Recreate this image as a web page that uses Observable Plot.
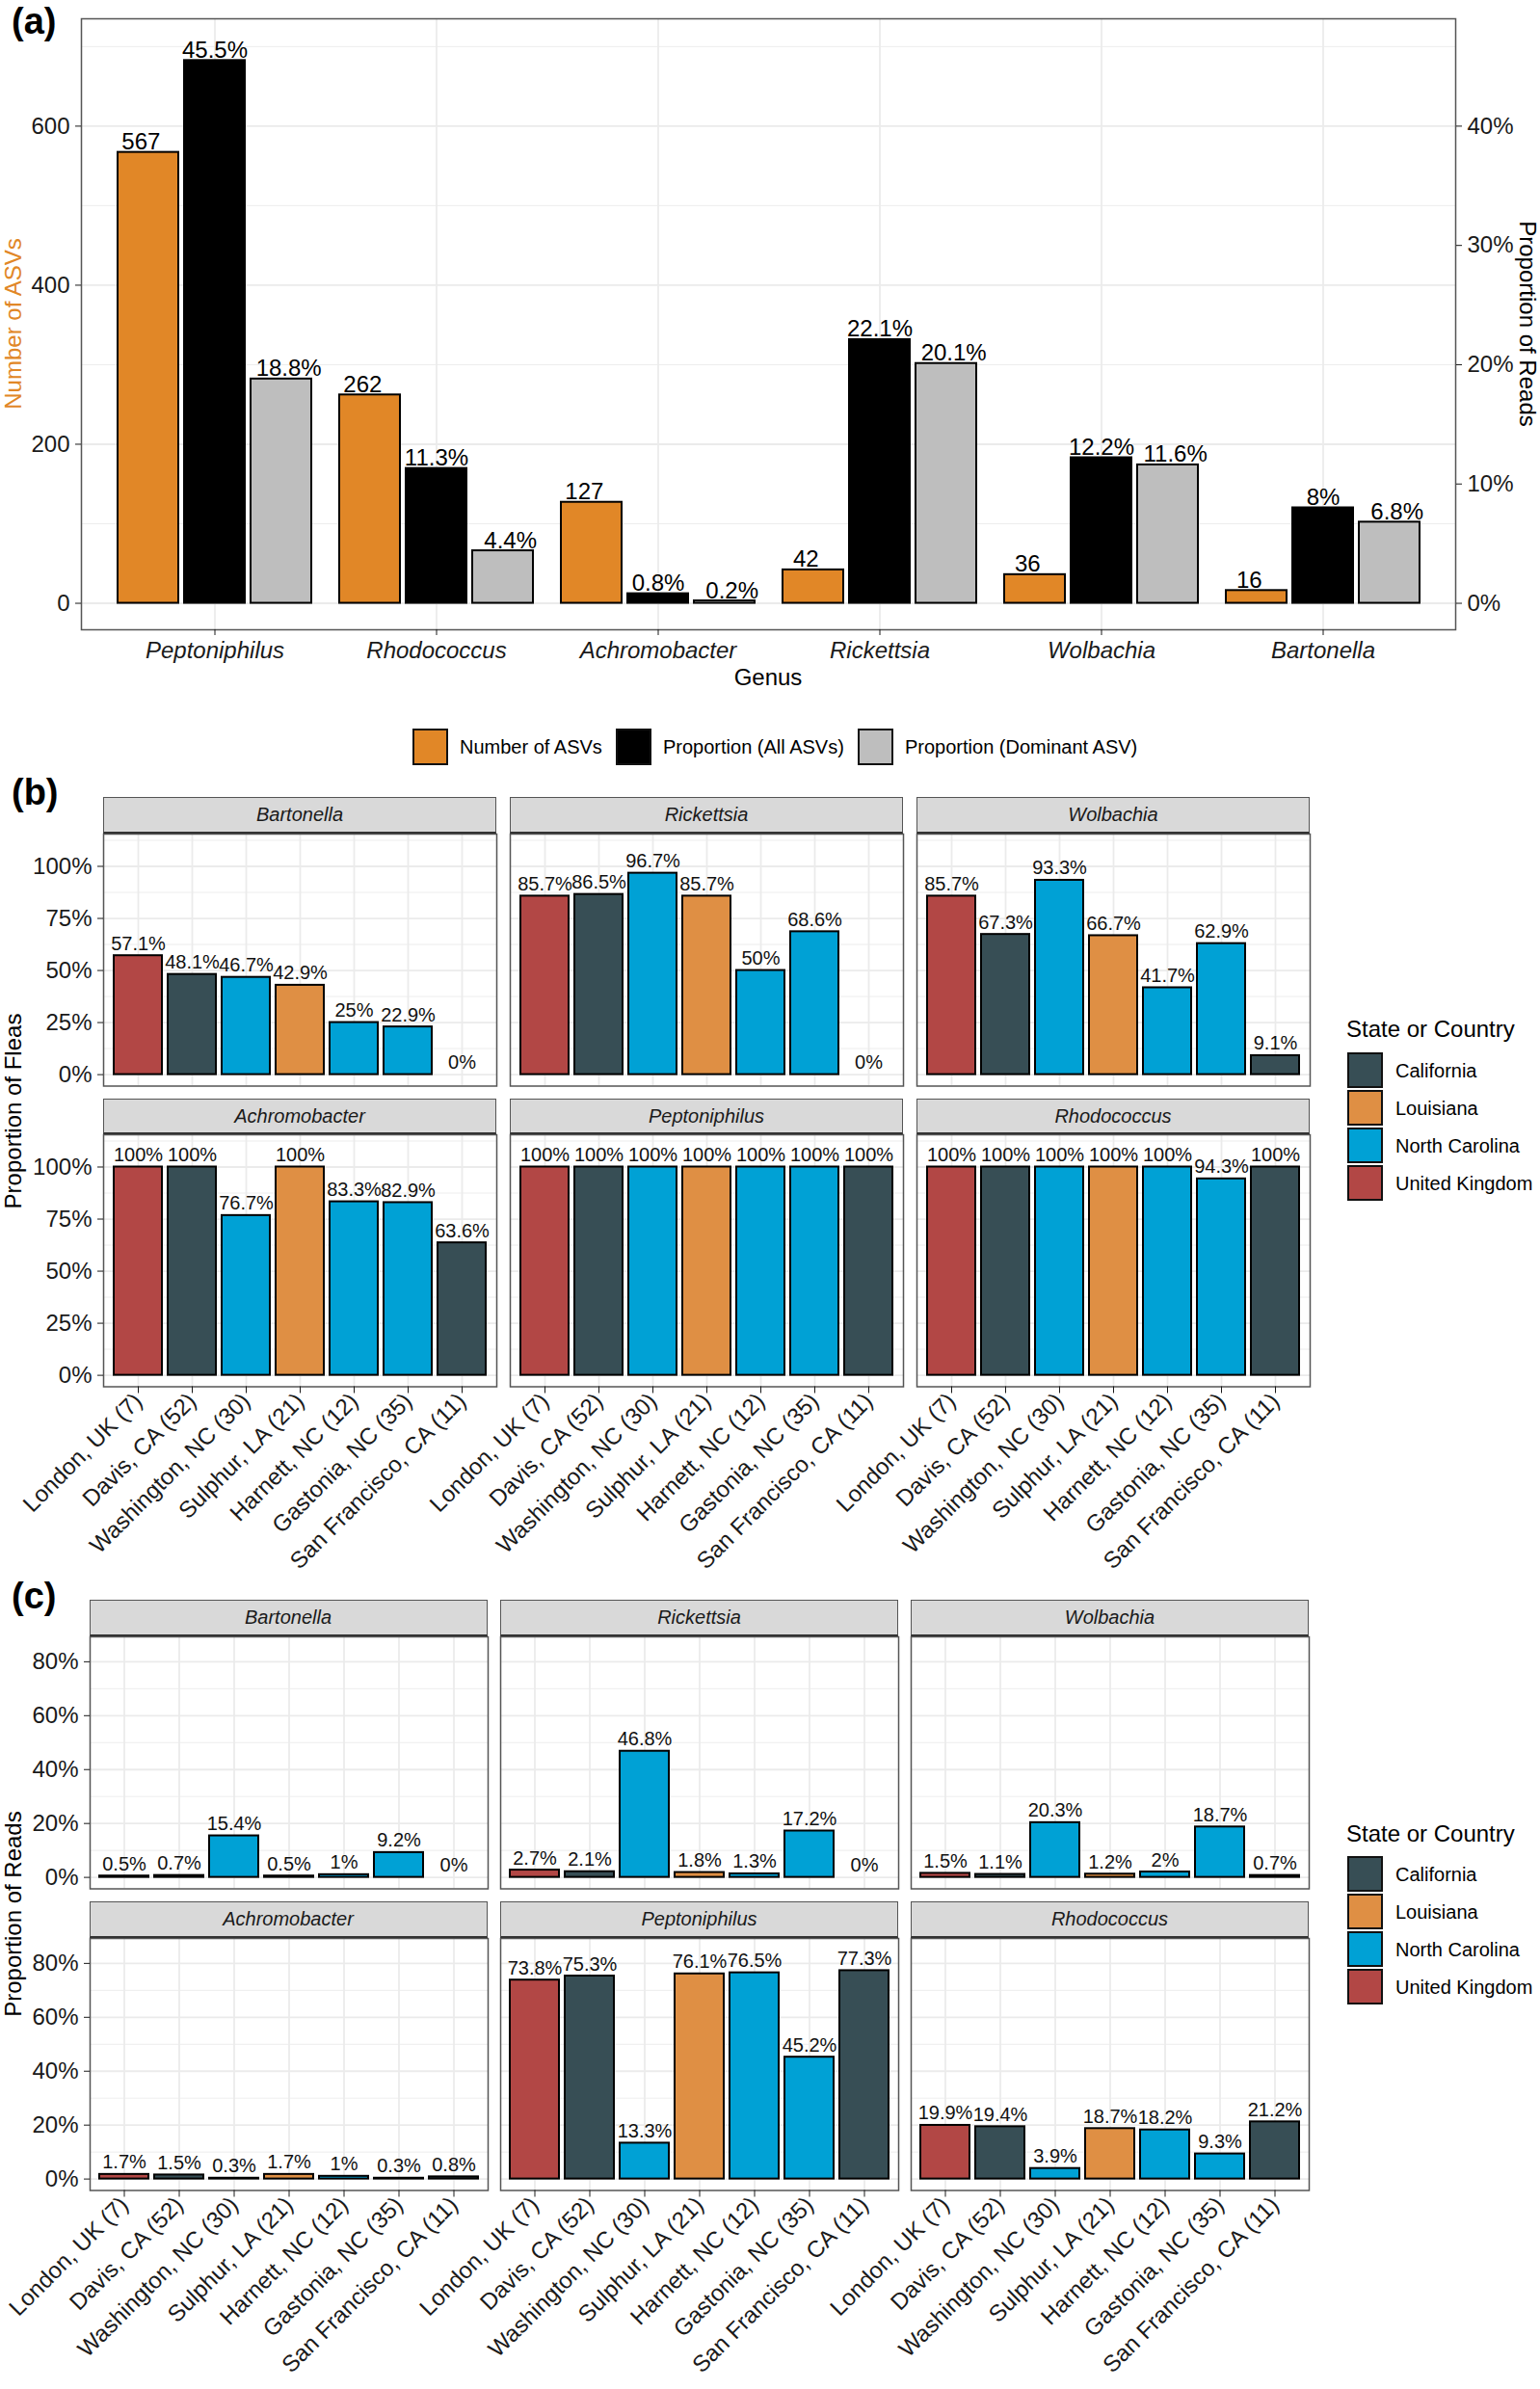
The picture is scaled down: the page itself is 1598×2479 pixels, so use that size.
<!DOCTYPE html>
<html>
<head>
<meta charset="utf-8">
<script src="https://cdn.jsdelivr.net/npm/d3@7"></script>
<script src="https://cdn.jsdelivr.net/npm/@observablehq/plot@0.6"></script>
<style>
  body { margin: 0; background: #fff; }
  #root { position: relative; width: 1598px; height: 2479px; overflow: hidden; background: #fff;
          font-family: "Liberation Sans", Arial, Helvetica, sans-serif; color: #000; }
  .t { position: absolute; white-space: nowrap; line-height: 1; }
  .strip { position: absolute; box-sizing: border-box; background: #D9D9D9; border: 1.5px solid #555;
           border-bottom: 2px solid #333; display: flex; align-items: center; justify-content: center;
           font-style: italic; font-size: 20px; color: #1A1A1A; }
  .sw { position: absolute; box-sizing: border-box; border: 2px solid #111; }
</style>
</head>
<body>
<div id="root"></div>
<script>
// ---------------- DATA ----------------
const genera = ["Peptoniphilus", "Rhodococcus", "Achromobacter", "Rickettsia", "Wolbachia", "Bartonella"];
const seriesNames = ["Number of ASVs", "Proportion (All ASVs)", "Proportion (Dominant ASV)"];
const seriesColors = ["#E18727", "#000000", "#BEBEBE"];
const asvCounts = [567, 262, 127, 42, 36, 16];
const propAll = [45.5, 11.3, 0.8, 22.1, 12.2, 8];          // % of reads, all ASVs
const propDominant = [18.8, 4.4, 0.2, 20.1, 11.6, 6.8];    // % of reads, dominant ASV
const asvTicks = [0, 200, 400, 600];
const asvMinor = [100, 300, 500, 700];
const readPctTicks = [0, 10, 20, 30, 40];
const SEC = 15; // secondary axis: 40% <-> 600 ASVs

const locations = ["London, UK (7)", "Davis, CA (52)", "Washington, NC (30)", "Sulphur, LA (21)",
                   "Harnett, NC (12)", "Gastonia, NC (35)", "San Francisco, CA (11)"];
const locationRegion = ["United Kingdom", "California", "North Carolina", "Louisiana",
                        "North Carolina", "North Carolina", "California"];
const regions = ["California", "Louisiana", "North Carolina", "United Kingdom"];
const regionColors = ["#374E55", "#DF8F44", "#00A1D5", "#B24745"];
const facetOrder = ["Bartonella", "Rickettsia", "Wolbachia", "Achromobacter", "Peptoniphilus", "Rhodococcus"];

// (b) Proportion of fleas (%)
const fleasBartonella     = [57.1, 48.1, 46.7, 42.9, 25, 22.9, 0];
const fleasRickettsia     = [85.7, 86.5, 96.7, 85.7, 50, 68.6, 0];
const fleasWolbachia      = [85.7, 67.3, 93.3, 66.7, 41.7, 62.9, 9.1];
const fleasAchromobacter  = [100, 100, 76.7, 100, 83.3, 82.9, 63.6];
const fleasPeptoniphilus  = [100, 100, 100, 100, 100, 100, 100];
const fleasRhodococcus    = [100, 100, 100, 100, 100, 94.3, 100];
const fleasTicks = [0, 25, 50, 75, 100];
const fleasMinor = [12.5, 37.5, 62.5, 87.5, 112.5];

// (c) Proportion of reads (%)
const readsBartonella     = [0.5, 0.7, 15.4, 0.5, 1, 9.2, 0];
const readsRickettsia     = [2.7, 2.1, 46.8, 1.8, 1.3, 17.2, 0];
const readsWolbachia      = [1.5, 1.1, 20.3, 1.2, 2, 18.7, 0.7];
const readsAchromobacter  = [1.7, 1.5, 0.3, 1.7, 1, 0.3, 0.8];
const readsPeptoniphilus  = [73.8, 75.3, 13.3, 76.1, 76.5, 45.2, 77.3];
const readsRhodococcus    = [19.9, 19.4, 3.9, 18.7, 18.2, 9.3, 21.2];
const readsTicks = [0, 20, 40, 60, 80];
const readsMinor = [10, 30, 50, 70];

// ---------------- HELPERS ----------------
const W = 1598;
const FONT = '"Liberation Sans", Arial, Helvetica, sans-serif';
const GRID = "#EBEBEB";
const FRAME = "#555555";
const root = document.getElementById("root");

function put(el, left, top) {
  el.style.position = "absolute";
  el.style.left = left + "px";
  el.style.top = top + "px";
  root.appendChild(el);
  return el;
}
function text(str, {cx, cy, left, size = 24, weight = "normal", italic = false, color = "#000", rotate = 0}) {
  const d = document.createElement("div");
  d.className = "t";
  d.textContent = str;
  d.style.fontSize = size + "px";
  d.style.fontWeight = weight;
  d.style.fontStyle = italic ? "italic" : "normal";
  d.style.color = color;
  if (left !== undefined) {
    d.style.transform = "translateY(-50%)";
    put(d, left, cy);
  } else {
    d.style.transform = `translate(-50%,-50%) rotate(${rotate}deg)`;
    put(d, cx, cy);
  }
  return d;
}
function swatch(color, left, top, w = 37, h = 37) {
  const s = document.createElement("div");
  s.className = "sw";
  s.style.width = w + "px";
  s.style.height = h + "px";
  s.style.background = color;
  return put(s, left, top);
}
const svgStyle = {fontFamily: FONT, fontSize: "24px", background: "transparent", color: "#1A1A1A", overflow: "visible"};

// ---------------- PANEL (a) ----------------
const aLeft = 84, aRight = 1510, aTop = 19, aBottom = 653, aH = 720;
const aStep = (aRight - aLeft) / (genera.length + 0.2);
const slot = aStep * 0.9 / 3;
const seriesValues = [asvCounts, propAll.map(v => v * SEC), propDominant.map(v => v * SEC)];
const seriesLabels = [asvCounts.map(String), propAll.map(v => v + "%"), propDominant.map(v => v + "%")];
const aSeries = seriesNames.map((s, k) => genera.map((g, i) => ({genus: g, series: s, y: seriesValues[k][i], label: seriesLabels[k][i]})));

const aPlot = Plot.plot({
  width: W, height: aH,
  marginLeft: aLeft, marginRight: W - aRight, marginTop: aTop, marginBottom: aH - aBottom,
  style: svgStyle,
  x: {type: "band", domain: genera, paddingInner: 0.1, paddingOuter: 0.15, axis: null},
  y: {domain: [-33.3, 735], axis: null},
  color: {domain: seriesNames, range: seriesColors},
  marks: [
    Plot.ruleY(asvMinor, {stroke: GRID, strokeWidth: 0.9}),
    Plot.ruleY(asvTicks, {stroke: GRID, strokeWidth: 1.8}),
    Plot.ruleX(genera, {stroke: GRID, strokeWidth: 1.8}),
    ...aSeries.map((rows, k) => Plot.barY(rows, {
      x: "genus", y: "y", fill: "series", stroke: "#000", strokeWidth: 2,
      insetLeft: k * slot + 3, insetRight: (2 - k) * slot + 3
    })),
    ...aSeries.map((rows, k) => Plot.text(rows, {
      x: "genus", y: "y", text: "label", dx: (k - 1) * aStep / 3, dy: -3,
      lineAnchor: "bottom", fontSize: 24, fill: "#000"
    })),
    Plot.frame({stroke: FRAME, strokeWidth: 1.5}),
    Plot.axisY({ticks: asvTicks, tickSize: 6, tickPadding: 6, fontSize: 24, label: null}),
    Plot.axisY({anchor: "right", ticks: readPctTicks.map(p => p * SEC), tickFormat: d => (d / SEC) + "%",
                tickSize: 6, tickPadding: 6, fontSize: 24, label: null}),
    Plot.axisX({tickSize: 6, tickPadding: 6, fontSize: 24, fontStyle: "italic", label: null})
  ]
});
put(aPlot, 0, 0);

text("(a)", {left: 12, cy: 22, size: 38, weight: "bold"});
text("Number of ASVs", {cx: 14, cy: 336, rotate: -90, color: "#E18727"});
text("Proportion of Reads", {cx: 1585, cy: 336, rotate: 90});
text("Genus", {cx: 797, cy: 703});

// legend (a)
const aLegX = [428, 639, 890];
seriesNames.forEach((s, i) => {
  swatch(seriesColors[i], aLegX[i], 756, 37, 38);
  text(s, {left: aLegX[i] + 49, cy: 775, size: 20});
});

// ---------------- FACETS (b) & (c) ----------------
function facet({genus, values, left, top, w, h, domain, major, minor, showY, showX, stripTop}) {
  const ML = showY ? 110 : 4, MR = 4, MT = 4, MB = showX ? 280 : 4;
  const rows = locations.map((loc, i) => ({loc, region: locationRegion[i], v: values[i], label: values[i] + "%"}));
  const p = Plot.plot({
    width: w + ML + MR, height: h + MT + MB,
    marginLeft: ML, marginRight: MR, marginTop: MT, marginBottom: MB,
    style: svgStyle,
    x: {type: "band", domain: locations, paddingInner: 0.1, paddingOuter: 0.15, axis: null},
    y: {domain, axis: null},
    color: {domain: regions, range: regionColors},
    marks: [
      Plot.ruleY(minor, {stroke: GRID, strokeWidth: 0.9}),
      Plot.ruleY(major, {stroke: GRID, strokeWidth: 1.8}),
      Plot.ruleX(locations, {stroke: GRID, strokeWidth: 1.8}),
      Plot.barY(rows, {x: "loc", y: "v", fill: "region", stroke: "#000", strokeWidth: 2}),
      Plot.text(rows, {x: "loc", y: "v", text: "label", dy: -6, lineAnchor: "bottom", fontSize: 20, fill: "#111"}),
      Plot.frame({stroke: FRAME, strokeWidth: 1.5}),
      showY ? Plot.axisY({ticks: major, tickFormat: d => d + "%", tickSize: 6, tickPadding: 6, fontSize: 24, label: null}) : null,
      showX ? Plot.axisX({tickSize: 7, tickPadding: 4, tickRotate: -45, fontSize: 24, label: null}) : null
    ]
  });
  put(p, left - ML, top - MT);
  const s = document.createElement("div");
  s.className = "strip";
  s.textContent = genus;
  s.style.width = w + "px";
  s.style.height = (top - stripTop) + "px";
  put(s, left, stripTop);
}

function legendRegions(titleCy, firstTop) {
  text("State or Country", {left: 1397, cy: titleCy, size: 24});
  regions.forEach((r, i) => {
    const t = firstTop + i * 39;
    swatch(regionColors[i], 1398, t, 37, 37);
    text(r, {left: 1448, cy: t + 19, size: 20});
  });
}

// (b)
const fleas = {Bartonella: fleasBartonella, Rickettsia: fleasRickettsia, Wolbachia: fleasWolbachia,
               Achromobacter: fleasAchromobacter, Peptoniphilus: fleasPeptoniphilus, Rhodococcus: fleasRhodococcus};
const bCols = [107, 529, 951], bW = 408;
const bStrip = [826.5, 1140], bPanel = [864.5, 1177], bH = 261.5;
facetOrder.forEach((g, i) => {
  const r = Math.floor(i / 3), c = i % 3;
  facet({genus: g, values: fleas[g], left: bCols[c], top: bPanel[r], w: bW, h: bH,
         domain: [-5.5, 115.5], major: fleasTicks, minor: fleasMinor,
         showY: c === 0, showX: r === 1, stripTop: bStrip[r]});
});
text("(b)", {left: 12, cy: 822, size: 38, weight: "bold"});
text("Proportion of Fleas", {cx: 14, cy: 1153, rotate: -90});
legendRegions(1068, 1092);

// (c)
const reads = {Bartonella: readsBartonella, Rickettsia: readsRickettsia, Wolbachia: readsWolbachia,
               Achromobacter: readsAchromobacter, Peptoniphilus: readsPeptoniphilus, Rhodococcus: readsRhodococcus};
const cCols = [92.5, 519, 945], cW = 413;
const cStrip = [1660, 1973], cPanel = [1698, 2011.4], cH = 261.5;
facetOrder.forEach((g, i) => {
  const r = Math.floor(i / 3), c = i % 3;
  facet({genus: g, values: reads[g], left: cCols[c], top: cPanel[r], w: cW, h: cH,
         domain: [-4.25, 89.25], major: readsTicks, minor: readsMinor,
         showY: c === 0, showX: r === 1, stripTop: cStrip[r]});
});
text("(c)", {left: 12, cy: 1656, size: 38, weight: "bold"});
text("Proportion of Reads", {cx: 14, cy: 1986, rotate: -90});
legendRegions(1903, 1926);
</script>
</body>
</html>
